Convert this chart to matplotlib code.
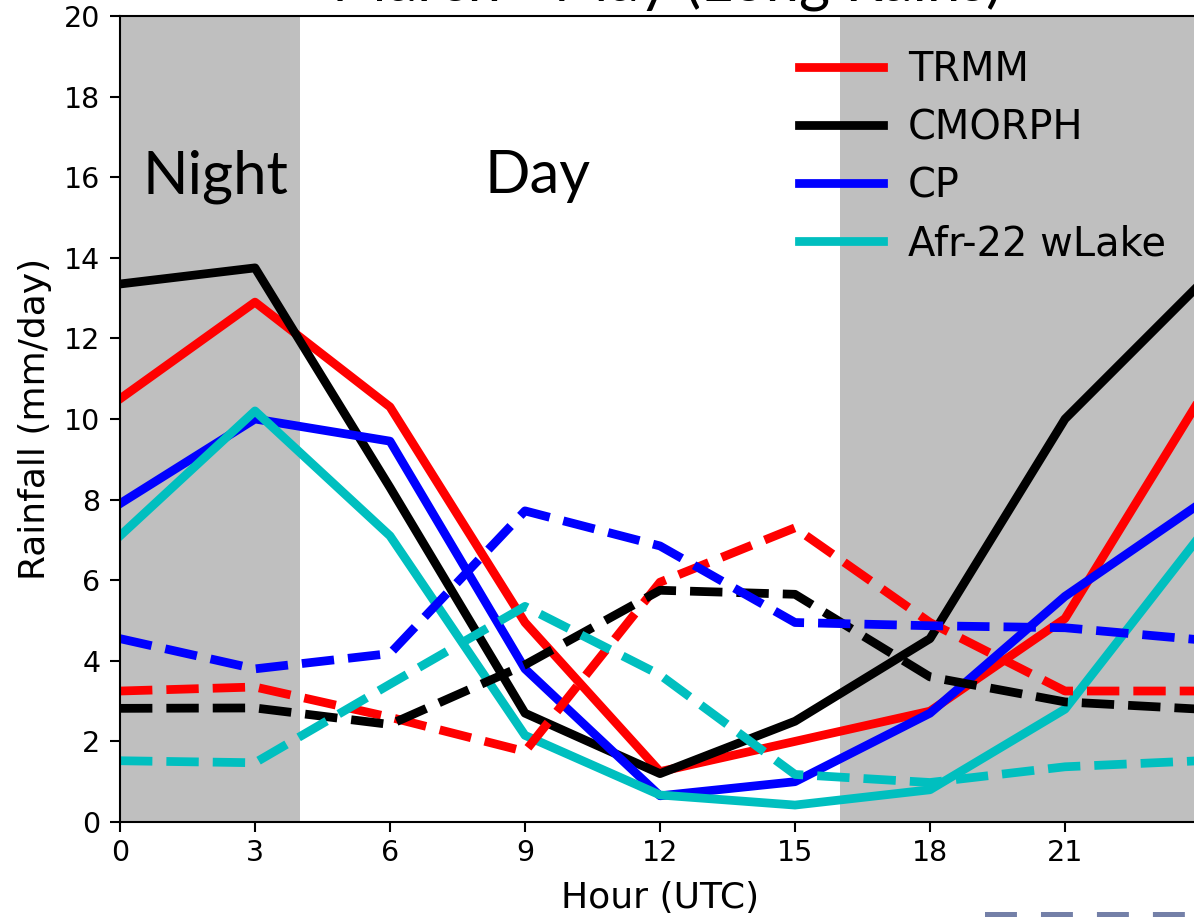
import matplotlib.pyplot as plt
from matplotlib.lines import Line2D

# Data
hours = [0, 3, 6, 9, 12, 15, 18, 21, 24]
hour_ticks = [0, 3, 6, 9, 12, 15, 18, 21]

trmm = [10.5, 12.9, 10.3, 4.95, 1.25, 2.0, 2.75, 5.05, 10.5]
cmorph = [13.35, 13.75, 8.3, 2.7, 1.2, 2.5, 4.55, 10.0, 13.35]
cp = [7.9, 10.0, 9.45, 3.8, 0.65, 1.0, 2.7, 5.6, 7.9]
afr22 = [7.1, 10.2, 7.1, 2.15, 0.67, 0.42, 0.8, 2.8, 7.1]

trmm_2 = [3.25, 3.35, 2.6, 1.75, 5.95, 7.3, 4.95, 3.25, 3.25]
cmorph_2 = [2.82, 2.83, 2.42, 3.9, 5.75, 5.65, 3.6, 2.98, 2.8]
cp_2 = [4.55, 3.8, 4.18, 7.72, 6.85, 4.95, 4.87, 4.82, 4.52]
afr22_2 = [1.52, 1.47, 3.42, 5.35, 3.65, 1.18, 0.98, 1.37, 1.52]

labels = ["TRMM", "CMORPH", "CP", "Afr-22 wLake"]
colors = ["r", "k", "b", "c"]

W, H = 1194, 917
fig = plt.figure(figsize=(W / 100, H / 100), dpi=100)
ax = fig.add_axes([120 / W, (H - 822) / H, 1080 / W, 806 / H])

# night shading
ax.axvspan(0, 4, color="0.75", lw=0, zorder=0)
ax.axvspan(16, 24, color="0.75", lw=0, zorder=0)

lw = 6.3
for s, c, lab in zip([trmm, cmorph, cp, afr22], colors, labels):
    ax.plot(hours, s, color=c, lw=lw, label=lab)
for s, c in zip([trmm_2, cmorph_2, cp_2, afr22_2], colors):
    ax.plot(hours, s, color=c, lw=lw, ls="--")

ax.set_xlim(0, 24)
ax.set_ylim(0, 20)
ax.set_xticks(hour_ticks)
ax.set_yticks(range(0, 21, 2))
ax.tick_params(labelsize=20.5, length=7, width=1.5)
ax.tick_params(axis="x", pad=5)
ax.tick_params(axis="y", pad=7)
for sp in ax.spines.values():
    sp.set_linewidth(1.5)

ax.set_xlabel("Hour (UTC)", fontsize=26, labelpad=10)
ax.set_ylabel("Rainfall (mm/day)", fontsize=26, labelpad=9)

ax.text(0.5, 15.6, "Night", fontsize=43, family="Lato", va="baseline", ha="left")
ax.text(8.1, 15.6, "Day", fontsize=43, family="Lato", va="baseline", ha="left")

ax.legend(loc="upper right", fontsize=28.8, frameon=False, handlelength=2.1,
          handletextpad=0.62, labelspacing=0.45, borderaxespad=0.45)

fig.text(667 / W, 1 - 1 / H, "March - May (Long Rains)", fontsize=43,
         family="Lato", ha="center", va="baseline")

# cropped element at the bottom edge
blw = 7.2
fig.add_artist(Line2D([985 / W, 1.0], [0.0, 0.0], transform=fig.transFigure,
                      color="#7480a8", lw=blw, dashes=(23.0 / blw, 17.3 / blw),
                      solid_capstyle="butt", dash_capstyle="butt"))

fig.savefig("out.png", dpi=100)
